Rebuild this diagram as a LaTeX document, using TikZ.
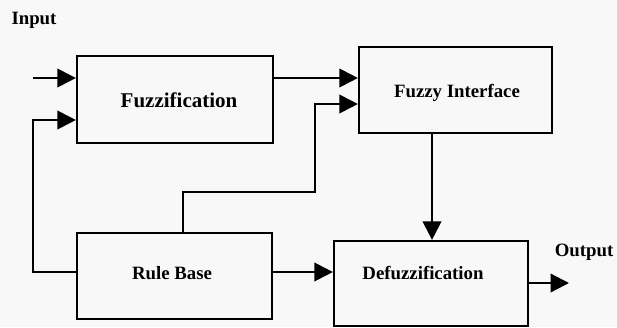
\documentclass[tikz,border=0pt]{standalone}
\usepackage{fontspec}
\setmainfont{Liberation Serif}
\usetikzlibrary{arrows.meta}
\definecolor{bg}{RGB}{248,248,248}
\begin{document}
\begin{tikzpicture}[x=1pt,y=-1pt,
  blk/.style={draw=black,line width=2.2pt,rectangle,inner sep=0pt},
  lbl/.style={font=\fontsize{18.8}{20}\selectfont\bfseries,inner sep=0pt},
  conn/.style={line width=2.2pt},
  arr/.style={conn,-{Triangle[length=18.5pt,width=18.5pt]}},
  ]
\fill[bg] (0,0) rectangle (617,327);
\useasboundingbox (0,0) rectangle (617,327);
% boxes
\node[blk,minimum width=196pt,minimum height=87pt] (fuzz) at (175,99.5) {};
\node[blk,minimum width=193pt,minimum height=86pt] (fi) at (455.5,90) {};
\node[blk,minimum width=195pt,minimum height=86pt] (rule) at (174.5,276) {};
\node[blk,minimum width=194pt,minimum height=85pt] (defz) at (431,283.5) {};
% texts
\node[lbl,font=\fontsize{21}{23}\selectfont\bfseries] (fuzzt) at (179,100) {Fuzzification};
\node[lbl] (fit) at (457,93) {Fuzzy Interface};
\node[lbl] (rulet) at (172,273) {Rule Base};
\node[lbl] (defzt) at (423,273) {Defuzzification};
\node[lbl] (inp) at (34,20) {Input};
\node[lbl] (outp) at (584,252) {Output};
% helper coordinates
\coordinate (in1) at (33,78);
\coordinate (fb) at (33,120);
\coordinate (rb) at (33,272);
\coordinate (r1) at (183,192);
\coordinate (r2) at (315,104);
\coordinate (dn) at (432,0);
\coordinate (out) at (569,283);
% connectors
\draw[arr] (in1) -- (fuzz.west |- in1);
\draw[arr] (rule.west |- rb) -- (rb) -- (fb) -- (fuzz.west |- fb);
\draw[arr] (fuzz.east |- in1) -- (fi.west |- in1);
\draw[arr] (rule.north -| r1) -- (r1) -| (r2) -- (fi.west |- r2);
\draw[arr] (fi.south -| dn) -- (defz.north -| dn);
\draw[arr] (rule.east |- rb) -- (defz.west |- rb);
\draw[arr] (defz.east |- out) -- (out);
\end{tikzpicture}
\end{document}
